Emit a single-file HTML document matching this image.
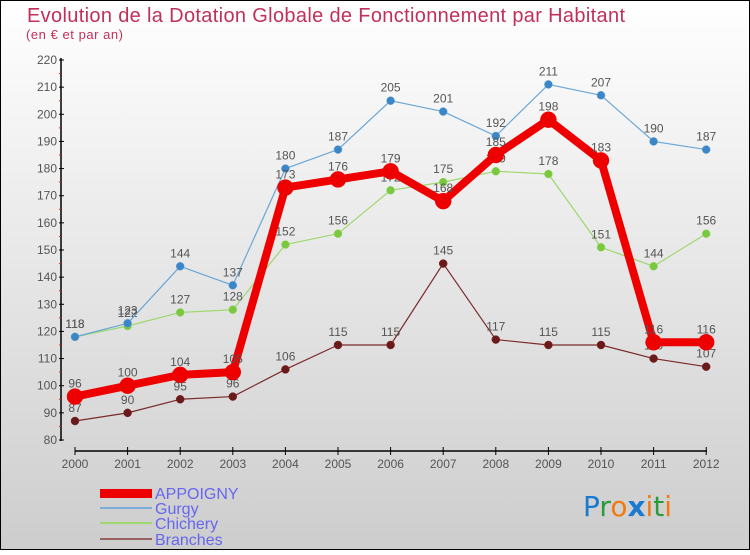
<!DOCTYPE html>
<html><head><meta charset="utf-8"><style>
body{margin:0}
#c{width:750px;height:550px;position:relative;font-family:"Liberation Sans",sans-serif;}
</style></head><body>
<div id="c">
<svg id="s" width="750" height="550" xmlns="http://www.w3.org/2000/svg">
<defs><linearGradient id="bg" x1="0" y1="0" x2="0" y2="1"><stop offset="0" stop-color="#ffffff"/><stop offset="1" stop-color="#cdcdcd"/></linearGradient></defs>
<rect x="0.5" y="0.5" width="749" height="549" fill="url(#bg)" stroke="#000"/>
<text x="27" y="22" font-size="20" textLength="598" fill="#c0305a">Evolution de la Dotation Globale de Fonctionnement par Habitant</text>
<text x="26" y="39" font-size="13" textLength="97" fill="#c0305a">(en € et par an)</text>
<g id="axes"></g><g id="series"></g>
<g>
<rect x="100" y="489" width="52" height="9" fill="#ee0000"/>
<text x="155" y="499" font-size="16" fill="#6666ee">APPOIGNY</text>
<rect x="100" y="507" width="52" height="2" fill="#7aaed8"/>
<text x="155" y="514" font-size="16" fill="#6666ee">Gurgy</text>
<rect x="100" y="522" width="52" height="2" fill="#9ed86e"/>
<text x="155" y="529" font-size="16" fill="#6666ee">Chichery</text>
<rect x="100" y="538" width="52" height="2" fill="#9a6060"/>
<text x="155" y="545" font-size="16" fill="#6666ee">Branches</text>
</g>
<g font-size="28" font-family="'DejaVu Sans',sans-serif">
<text x="583" y="516"><tspan fill="#1a7ad0">P</tspan><tspan fill="#2a9a3a">r</tspan><tspan fill="#f07a10">o</tspan><tspan fill="#1a7ad0" font-weight="bold">x</tspan><tspan fill="#f07a10">i</tspan><tspan fill="#2a9a3a">t</tspan><tspan fill="#f07a10">i</tspan></text>
</g>
</svg>
</div>
<script>
const years=[2000,2001,2002,2003,2004,2005,2006,2007,2008,2009,2010,2011,2012];
const appoigny=[96,100,104,105,173,176,179,168,185,198,183,116,116];
const gurgy=[118,123,144,137,180,187,205,201,192,211,207,190,187];
const chichery=[118,122,127,128,152,156,172,175,179,178,151,144,156];
const branches=[87,90,95,96,106,115,115,145,117,115,115,110,107];
const yTicks=[80,90,100,110,120,130,140,150,160,170,180,190,200,210,220];
const NS="http://www.w3.org/2000/svg";
function xs(i){return 75+i*52.6;}
function ys(v){return 440-(v-80)*380/140;}
function mk(t,a,p){const e=document.createElementNS(NS,t);for(const k in a)e.setAttribute(k,a[k]);p.appendChild(e);return e;}
const ax=document.getElementById('axes');
let l=mk('line',{x1:61,y1:58,x2:61,y2:441,stroke:'#000','stroke-width':1.5},ax);


yTicks.forEach((v,i)=>{
  const y=ys(v);
  mk('line',{x1:59,y1:y,x2:64,y2:y,stroke:'#000'},ax);
  const t=mk('text',{x:57,y:y+4,'text-anchor':'end','font-size':12,fill:'#555'},ax);
  
  
  t.textContent=v;
  if(i<yTicks.length-1)mk('line',{x1:59,y1:ys(v+5),x2:61,y2:ys(v+5),stroke:'#e02020'},ax);
});
l=mk('line',{x1:75,y1:451,x2:707,y2:451,stroke:'#000','stroke-width':1.5},ax);


years.forEach((yr,i)=>{
  const x=xs(i);
  mk('line',{x1:x,y1:447,x2:x,y2:455,stroke:'#000'},ax);
  const t=mk('text',{x:x,y:468,'text-anchor':'middle','font-size':12,fill:'#555'},ax);
  
  
  t.textContent=yr;
});
const sg=document.getElementById('series');
function draw(name,data,color,w,r,dot){
  const g=mk('g',{},sg);
  
  
  const p=mk('polyline',{points:data.map((v,i)=>xs(i)+','+ys(v)).join(' '),fill:'none',stroke:color,'stroke-width':w,'stroke-linejoin':'round'},g);
  
  
  data.forEach((v,i)=>{
    const c=mk('circle',{cx:xs(i),cy:ys(v),r:r,fill:dot,stroke:color,'stroke-width':0.5},g);
    
    
    const t=mk('text',{x:xs(i),y:ys(v)-9,'text-anchor':'middle','font-size':12,fill:'#555'},g);
    
    
    t.textContent=v;
  });
}
draw('branches',branches,'#7a2a2a',1.2,4,'#6a1a1a');
draw('chichery',chichery,'#9ed86e',1.2,4,'#7ac840');
draw('gurgy',gurgy,'#6aa6d6',1.2,4,'#3a86c6');
draw('appoigny',appoigny,'#ee0000',8,8,'#ee0000');
</script>
</body></html>
